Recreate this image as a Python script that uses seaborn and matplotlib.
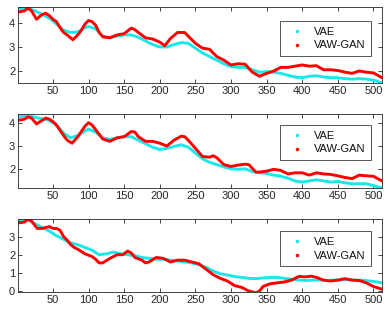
import matplotlib
matplotlib.use("Agg")
import matplotlib.pyplot as plt
from matplotlib.lines import Line2D
import seaborn as sns
import pandas as pd

# ---------------- data ----------------
# Panel 1
p1_vae_x = [1, 15, 25, 35, 45, 55, 65, 75, 85, 95, 100, 110, 120, 130, 140, 150, 160, 170, 180, 190,
            200, 210, 220, 230, 240, 250, 260, 270, 280, 290, 300, 310, 320, 330, 340, 350, 360, 370,
            380, 390, 400, 410, 420, 430, 440, 450, 460, 470, 480, 490, 500, 512]
p1_vae_y = [4.6, 4.6, 4.5, 4.35, 4.2, 3.95, 3.7, 3.6, 3.62, 3.8, 3.85, 3.75, 3.45, 3.38, 3.45, 3.5, 3.5,
            3.4, 3.25, 3.1, 3.0, 3.0, 3.1, 3.18, 3.15, 2.95, 2.75, 2.6, 2.45, 2.3, 2.18, 2.15, 2.15, 2.05,
            1.95, 1.97, 1.95, 1.9, 1.82, 1.75, 1.72, 1.78, 1.8, 1.75, 1.72, 1.72, 1.68, 1.66, 1.68, 1.66,
            1.62, 1.5]
p1_gan_x = [1, 10, 15, 20, 27, 35, 40, 45, 50, 55, 60, 65, 70, 78, 85, 90, 95, 100, 105, 110, 115, 120,
            130, 140, 150, 160, 165, 170, 180, 190, 200, 207, 215, 225, 235, 240, 250, 260, 270, 280,
            290, 300, 310, 320, 330, 340, 350, 360, 370, 380, 390, 400, 410, 420, 430, 440, 450, 460,
            470, 480, 490, 500, 512]
p1_gan_y = [4.45, 4.5, 4.62, 4.5, 4.15, 4.35, 4.4, 4.3, 4.15, 4.05, 3.8, 3.6, 3.5, 3.3, 3.5, 3.7, 3.95,
            4.1, 4.05, 3.9, 3.6, 3.42, 3.38, 3.5, 3.55, 3.78, 3.72, 3.6, 3.38, 3.33, 3.2, 3.05, 3.35, 3.6,
            3.6, 3.45, 3.15, 2.95, 2.9, 2.6, 2.45, 2.25, 2.3, 2.28, 1.95, 1.78, 1.9, 2.0, 2.15, 2.15, 2.2,
            2.25, 2.2, 2.22, 2.05, 2.05, 2.02, 1.95, 1.9, 2.0, 1.95, 1.92, 1.72]

# Panel 2
p2_vae_x = [1, 15, 30, 45, 55, 65, 75, 85, 95, 100, 110, 120, 130, 140, 150, 160, 170, 180, 190, 200,
            210, 220, 230, 240, 250, 260, 270, 280, 290, 300, 310, 320, 330, 340, 350, 360, 370, 380,
            390, 400, 410, 420, 430, 440, 450, 460, 470, 480, 490, 500, 512]
p2_vae_y = [4.25, 4.3, 4.2, 4.1, 3.9, 3.55, 3.35, 3.45, 3.65, 3.72, 3.6, 3.35, 3.28, 3.35, 3.4, 3.4,
            3.25, 3.1, 2.95, 2.85, 2.9, 2.98, 3.05, 2.95, 2.7, 2.45, 2.3, 2.2, 2.1, 2.02, 2.0, 2.02, 1.9,
            1.85, 1.82, 1.75, 1.7, 1.62, 1.5, 1.45, 1.5, 1.55, 1.5, 1.45, 1.48, 1.42, 1.38, 1.38, 1.38,
            1.3, 1.2]
p2_gan_x = [1, 10, 15, 20, 27, 35, 40, 45, 50, 55, 65, 70, 77, 85, 95, 100, 105, 110, 120, 130, 140,
            150, 160, 165, 170, 180, 190, 200, 210, 220, 230, 235, 240, 250, 260, 270, 275, 280, 290,
            300, 310, 320, 325, 335, 340, 350, 360, 370, 380, 390, 400, 410, 420, 430, 440, 450, 460,
            470, 480, 490, 500, 512]
p2_gan_y = [4.1, 4.15, 4.25, 4.2, 3.95, 4.1, 4.2, 4.15, 4.05, 3.9, 3.45, 3.25, 3.12, 3.4, 3.85, 4.0,
            3.9, 3.7, 3.3, 3.2, 3.35, 3.4, 3.62, 3.6, 3.4, 3.2, 3.2, 3.12, 3.0, 3.25, 3.42, 3.4, 3.25,
            2.9, 2.55, 2.52, 2.58, 2.5, 2.2, 2.12, 2.18, 2.22, 2.2, 1.88, 1.88, 1.92, 2.0, 1.95, 1.8,
            1.85, 1.85, 1.75, 1.85, 1.8, 1.78, 1.72, 1.65, 1.6, 1.75, 1.72, 1.7, 1.5]

# Panel 3
p3_vae_x = [1, 10, 15, 25, 35, 45, 55, 65, 75, 85, 95, 105, 115, 125, 135, 145, 155, 165, 175, 185,
            195, 205, 215, 225, 235, 245, 255, 265, 275, 285, 295, 305, 315, 325, 335, 345, 355, 365,
            375, 385, 395, 405, 415, 425, 435, 445, 455, 465, 475, 485, 495, 505, 512]
p3_vae_y = [3.85, 3.85, 3.95, 3.7, 3.5, 3.3, 3.05, 2.85, 2.65, 2.55, 2.4, 2.25, 2.0, 2.05, 2.15, 2.05,
            2.0, 1.95, 1.85, 1.8, 1.75, 1.75, 1.7, 1.65, 1.6, 1.55, 1.45, 1.3, 1.1, 0.95, 0.88, 0.8,
            0.75, 0.7, 0.68, 0.72, 0.75, 0.75, 0.7, 0.65, 0.6, 0.58, 0.6, 0.6, 0.58, 0.6, 0.62, 0.62,
            0.6, 0.6, 0.55, 0.5, 0.45]
p3_gan_x = [1, 10, 15, 20, 28, 35, 45, 50, 55, 60, 65, 70, 75, 80, 85, 95, 105, 110, 115, 120, 130,
            140, 148, 155, 160, 165, 175, 180, 185, 195, 205, 215, 225, 235, 245, 255, 265, 275, 285,
            295, 305, 315, 325, 335, 340, 345, 355, 365, 375, 385, 395, 405, 413, 420, 430, 440, 450,
            460, 470, 480, 490, 500, 512]
p3_gan_y = [3.75, 3.8, 3.95, 3.85, 3.45, 3.45, 3.55, 3.45, 3.45, 3.35, 3.0, 2.8, 2.55, 2.4, 2.3, 2.05,
            1.9, 1.75, 1.55, 1.55, 1.8, 2.0, 2.0, 2.2, 2.1, 1.85, 1.7, 1.55, 1.6, 1.85, 1.8, 1.6, 1.7,
            1.7, 1.6, 1.5, 1.2, 0.9, 0.7, 0.55, 0.3, 0.2, 0.0, -0.1, 0.0, 0.25, 0.4, 0.45, 0.5, 0.6,
            0.8, 0.78, 0.82, 0.75, 0.6, 0.55, 0.6, 0.68, 0.6, 0.58, 0.45, 0.25, 0.1]

series_names = ["VAE", "VAW-GAN"]
x_ticks = [50, 100, 150, 200, 250, 300, 350, 400, 450, 500]
panel_yticks = [[2, 3, 4], [2, 3, 4], [0, 1, 2, 3]]
panel_ylims = [(1.5, 4.66), (1.2, 4.38), (-0.05, 3.98)]

panels = [
    (p1_vae_x, p1_vae_y, p1_gan_x, p1_gan_y),
    (p2_vae_x, p2_vae_y, p2_gan_x, p2_gan_y),
    (p3_vae_x, p3_vae_y, p3_gan_x, p3_gan_y),
]

# ---------------- style ----------------
sns.set_style("ticks")
plt.rcParams["font.family"] = ["Liberation Sans", "DejaVu Sans"]
plt.rcParams["font.size"] = 8

colors = {"VAE": "#19E8E8", "VAW-GAN": "#FF0000"}
frame_col = "#262626"

fig = plt.figure(figsize=(3.89, 3.18), dpi=100)
positions = [(0.0463, 0.739, 0.9357, 0.239),
             (0.0463, 0.409, 0.9357, 0.233),
             (0.0463, 0.082, 0.9357, 0.230)]
legend_tops = [0.816, 0.85, 0.832]

for i, (vx, vy, gx, gy) in enumerate(panels):
    ax = fig.add_axes(positions[i])
    df = pd.concat([
        pd.DataFrame({"x": vx, "y": vy, "method": series_names[0]}),
        pd.DataFrame({"x": gx, "y": gy, "method": series_names[1]}),
    ])
    sns.lineplot(data=df, x="x", y="y", hue="method", palette=colors,
                 estimator=None, sort=False, linewidth=2.1, ax=ax, legend=False)
    ax.set_xlim(1, 512)
    ax.set_ylim(*panel_ylims[i])
    ax.set_xticks(x_ticks)
    ax.set_yticks(panel_yticks[i])
    ax.set_xlabel("")
    ax.set_ylabel("")
    ax.tick_params(direction="in", length=3, width=0.6, top=True, right=True,
                   labelsize=8, colors=frame_col, pad=2)
    for sp in ax.spines.values():
        sp.set_visible(True)
        sp.set_linewidth(0.6)
        sp.set_color(frame_col)
    handles = [Line2D([], [], ls="none", marker=".", markersize=3.0,
                      color=colors[n]) for n in series_names]
    leg = ax.legend(handles, series_names, loc="upper right",
                    bbox_to_anchor=(0.97, legend_tops[i]), fontsize=8,
                    frameon=True, fancybox=False, edgecolor="#555555",
                    framealpha=1, borderpad=0.5, handlelength=2.0,
                    handletextpad=0.55, labelspacing=0.35, borderaxespad=0)
    leg.get_frame().set_linewidth(0.7)
    for t in leg.get_texts():
        t.set_color("#111111")

fig.savefig("out.png", dpi=100)
